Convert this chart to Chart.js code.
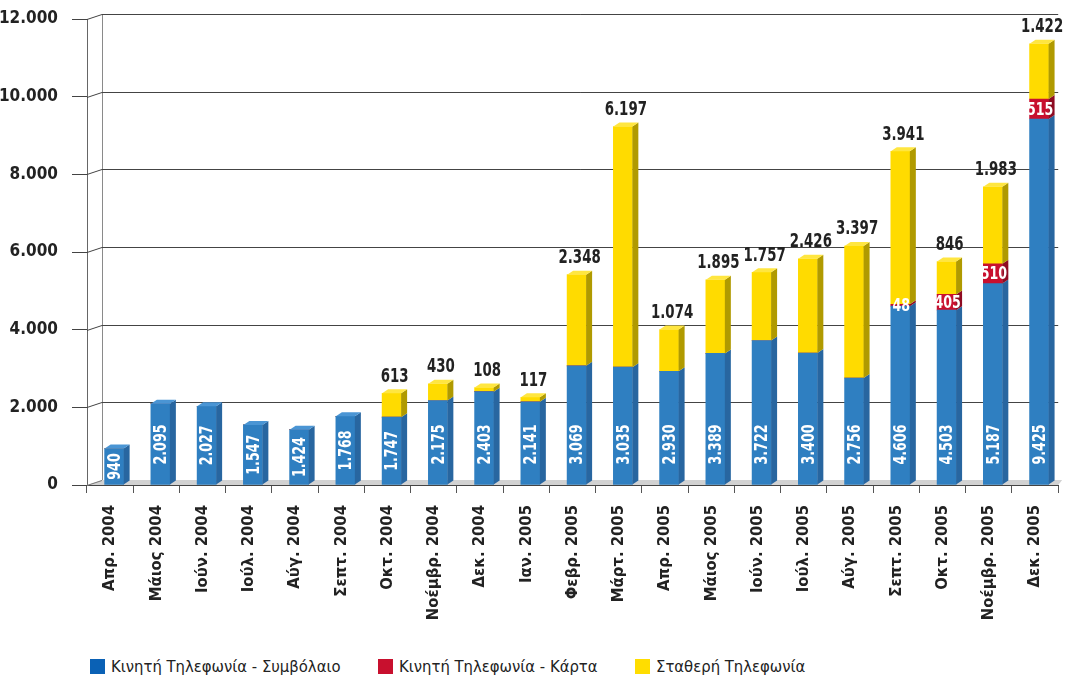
<!DOCTYPE html>
<html>
<head>
<meta charset="utf-8">
<script src="https://cdn.jsdelivr.net/npm/chart.js@4"></script>
<style>
  body { margin: 0; background: #fff; }
  #wrap { position: relative; width: 1067px; height: 680px; }
  #chart { position: absolute; left: 0; top: 0; }
  #legend { position: absolute; top: 657px; left: 0; width: 1067px; height: 22px;
            font-family: 'Liberation Sans Narrow', 'DejaVu Sans Condensed', sans-serif; font-size: 16.5px; color: #222; }
  .item { position: absolute; top: 0; white-space: nowrap; }
  .box { display: inline-block; width: 15px; height: 15px; vertical-align: -2px; margin-right: 6px; }
</style>
</head>
<body>
<div id="wrap">
  <canvas id="chart" width="1067" height="640"></canvas>
  <div id="legend"></div>
</div>
<script>
var months = ['Απρ. 2004', 'Μάιος 2004', 'Ιούν. 2004', 'Ιούλ. 2004', 'Αύγ. 2004', 'Σεπτ. 2004',
  'Οκτ. 2004', 'Νοέμβρ. 2004', 'Δεκ. 2004', 'Ιαν. 2005', 'Φεβρ. 2005', 'Μάρτ. 2005',
  'Απρ. 2005', 'Μάιος 2005', 'Ιούν. 2005', 'Ιούλ. 2005', 'Αύγ. 2005', 'Σεπτ. 2005',
  'Οκτ. 2005', 'Νοέμβρ. 2005', 'Δεκ. 2005'];

var mobileContract = [940, 2095, 2027, 1547, 1424, 1768, 1747, 2175, 2403, 2141, 3069, 3035,
  2930, 3389, 3722, 3400, 2756, 4606, 4503, 5187, 9425];
var mobileCard = [0, 0, 0, 0, 0, 0, 0, 0, 0, 0, 0, 0, 0, 0, 0, 0, 0, 48, 405, 510, 515];
var fixedLine = [0, 0, 0, 0, 0, 0, 613, 430, 108, 117, 2348, 6197, 1074, 1895, 1757, 2426,
  3397, 3941, 846, 1983, 1422];

var seriesNames = ['Κινητή Τηλεφωνία - Συμβόλαιο', 'Κινητή Τηλεφωνία - Κάρτα', 'Σταθερή Τηλεφωνία'];
var yTicks = [0, 2000, 4000, 6000, 8000, 10000, 12000];

var FONT = "'Liberation Sans Narrow', 'DejaVu Sans Condensed', sans-serif";
var faceColors = ['#2f7fc1', '#c8102e', '#ffdb00'];
var sideColors = ['#2866a0', '#8e0b22', '#b09a00'];
var topColors = ['#4a95d4', '#d83a52', '#ffe640'];
var legendColors = ['#0a61b5', '#c8102e', '#ffdd00'];

var DEPTH = 6, RISE = 4, SHIFT = 4, WALL = 15, WALL_RISE = 5;

function fmt(v) {
  return String(v).replace(/\B(?=(\d{3})+(?!\d))/g, '.');
}

// narrow bold text, squeezed along its own direction
function narrowText(ctx, txt, x, y, opts) {
  ctx.save();
  ctx.translate(x, y);
  if (opts.rotate) ctx.rotate(opts.rotate);
  ctx.scale(0.78, 1);
  ctx.font = 'bold ' + opts.size + 'px ' + FONT;
  ctx.fillStyle = opts.color;
  ctx.textAlign = opts.align;
  ctx.textBaseline = opts.baseline;
  ctx.fillText(txt, 0, 0);
  ctx.restore();
}

var frame3d = {
  id: 'frame3d',
  beforeDatasetsDraw: function(chart) {
    var ctx = chart.ctx, a = chart.chartArea, y = chart.scales.y;
    ctx.save();
    // floor
    ctx.fillStyle = '#d2d2d2';
    ctx.beginPath();
    ctx.moveTo(a.left, a.bottom);
    ctx.lineTo(a.left + WALL, a.bottom - WALL_RISE);
    ctx.lineTo(a.right + 4, a.bottom - WALL_RISE);
    ctx.lineTo(a.right, a.bottom);
    ctx.closePath();
    ctx.fill();
    // back wall line
    ctx.strokeStyle = '#8a8a8a';
    ctx.lineWidth = 1;
    ctx.beginPath();
    ctx.moveTo(a.left + WALL + 0.5, a.top - WALL_RISE);
    ctx.lineTo(a.left + WALL + 0.5, a.bottom - WALL_RISE);
    ctx.stroke();
    // grid lines on the back wall
    yTicks.forEach(function(v) {
      var yy = Math.round(y.getPixelForValue(v)) + 0.5;
      ctx.strokeStyle = v === 0 ? '#777' : '#444';
      ctx.beginPath();
      ctx.moveTo(a.left, yy);
      ctx.lineTo(a.left + WALL, yy - WALL_RISE);
      if (v !== 0) ctx.lineTo(a.right, yy - WALL_RISE);
      ctx.stroke();
    });
    ctx.restore();
    ctx.save();
    ctx.translate(SHIFT, 0);
  },
  afterDatasetsDraw: function(chart) {
    var ctx = chart.ctx;
    ctx.restore();
    ctx.save();
    var all = chart.data.datasets;
    all.forEach(function(ds, i) {
      var meta = chart.getDatasetMeta(i);
      meta.data.forEach(function(bar, j) {
        if (!ds.data[j]) return;
        var p = bar.getProps(['x', 'y', 'base', 'width'], true);
        var l = p.x - p.width / 2 + SHIFT, r = p.x + p.width / 2 + SHIFT;
        var top = Math.min(p.y, p.base), bot = Math.max(p.y, p.base);
        // side face
        ctx.fillStyle = sideColors[i];
        ctx.beginPath();
        ctx.moveTo(r, top);
        ctx.lineTo(r + DEPTH, top - RISE);
        ctx.lineTo(r + DEPTH, bot - RISE);
        ctx.lineTo(r, bot);
        ctx.closePath();
        ctx.fill();
        var isTop = true;
        for (var k = i + 1; k < all.length; k++) if (all[k].data[j]) isTop = false;
        if (isTop) {
          ctx.fillStyle = topColors[i];
          ctx.beginPath();
          ctx.moveTo(l, top);
          ctx.lineTo(l + DEPTH, top - RISE);
          ctx.lineTo(r + DEPTH, top - RISE);
          ctx.lineTo(r, top);
          ctx.closePath();
          ctx.fill();
        }
        var cx = (l + r) / 2;
        var txt = fmt(ds.data[j]);
        if (i === 0) {
          ctx.font = 'bold 18px ' + FONT;
          var len = ctx.measureText(txt).width * 0.78;
          var end = Math.max(bot - 20, Math.min(bot - 4, (top + bot) / 2 + len / 2));
          narrowText(ctx, txt, cx + 1, end, { size: 18, color: '#fff', align: 'left',
            baseline: 'middle', rotate: -Math.PI / 2 });
        } else if (i === 1) {
          narrowText(ctx, txt, cx + 1, (top + bot) / 2 + 1, { size: 18, color: '#fff',
            align: 'center', baseline: 'middle' });
        } else {
          narrowText(ctx, txt, cx + DEPTH / 2, top - RISE - 3, { size: 19, color: '#222',
            align: 'center', baseline: 'bottom' });
        }
      });
    });
    ctx.restore();
  }
};

var datasets = [mobileContract, mobileCard, fixedLine].map(function(arr, i) {
  return {
    label: seriesNames[i],
    data: arr,
    backgroundColor: faceColors[i],
    borderWidth: 0,
    barThickness: 19
  };
});

new Chart(document.getElementById('chart'), {
  type: 'bar',
  data: { labels: months, datasets: datasets },
  plugins: [frame3d],
  options: {
    responsive: false,
    animation: false,
    layout: { padding: { top: 19, right: 5, left: 0, bottom: 0 } },
    plugins: { legend: { display: false }, tooltip: { enabled: false } },
    scales: {
      x: {
        stacked: true,
        afterFit: function(s) { s.height = 155; },
        grid: { offset: true, drawOnChartArea: false, tickLength: 8, color: '#555' },
        border: { color: '#444' },
        ticks: { minRotation: 90, maxRotation: 90, padding: 12, color: '#222',
                 font: { family: FONT, size: 16.5, weight: 'bold' } }
      },
      y: {
        stacked: true,
        min: 0, max: 12000,
        afterFit: function(s) { s.width = 87; s.paddingTop = 0; s.paddingBottom = 0; },
        afterBuildTicks: function(s) { s.ticks = yTicks.map(function(v) { return { value: v }; }); },
        grid: { drawOnChartArea: false, tickLength: 15, color: '#444' },
        border: { color: '#666' },
        ticks: { padding: 14, color: '#222', callback: function(v) { return fmt(v); },
                 font: { family: FONT, size: 17, weight: 'bold' } }
      }
    }
  }
});

var legend = document.getElementById('legend');
var legendX = [90, 378, 635];
seriesNames.forEach(function(name, i) {
  var d = document.createElement('div');
  d.className = 'item';
  d.style.left = legendX[i] + 'px';
  d.innerHTML = '<span class="box" style="background:' + legendColors[i] + '"></span>' + name;
  legend.appendChild(d);
});
</script>
</body>
</html>
